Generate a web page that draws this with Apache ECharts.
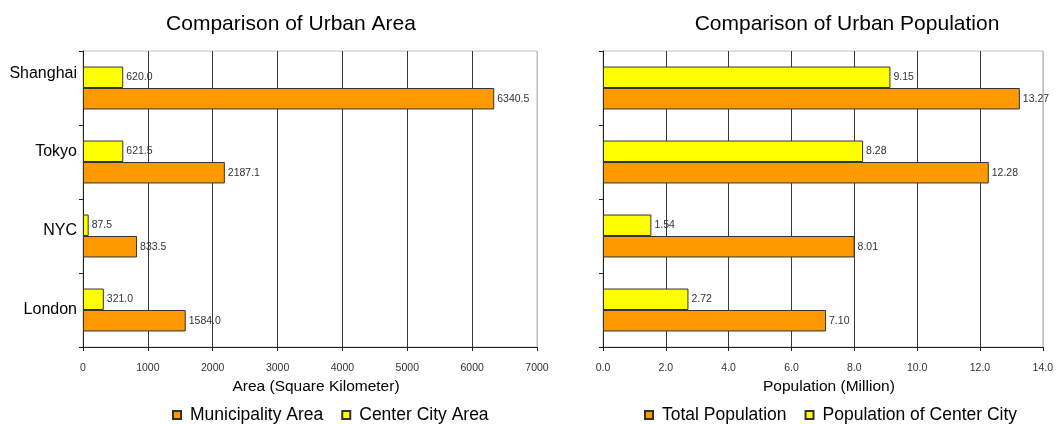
<!DOCTYPE html>
<html>
<head>
<meta charset="utf-8">
<title>Urban Area and Population</title>
<script src="https://cdn.jsdelivr.net/npm/echarts@6/dist/echarts.min.js"></script>
<style>
  html, body { margin: 0; padding: 0; background: #fff; }
  #chart { width: 1056px; height: 424px; }
</style>
</head>
<body>
<div id="chart"></div>
<script>
// Cities, top to bottom
const categories = ['Shanghai', 'Tokyo', 'NYC', 'London'];

// Area, square kilometres
const centerCityArea = [620.0, 621.5, 87.5, 321.0];
const municipalityArea = [6340.5, 2187.1, 833.5, 1584.0];

// Population, millions
const centerCityPopulation = [9.15, 8.28, 1.54, 2.72];
const totalPopulation = [13.27, 12.28, 8.01, 7.10];

// Axis ticks
const areaTicks = [0, 1000, 2000, 3000, 4000, 5000, 6000, 7000];
const populationTicks = [0, 2, 4, 6, 8, 10, 12, 14];

// Vertical nudge of each city label (px, upwards)
const labelLift = [14, 10, 5, 0];

const ORANGE = '#FF9900';
const YELLOW = '#FFFF00';
const EDGE = '#333333';
const FONT = '"Liberation Sans", Arial, sans-serif';

const chart = echarts.init(document.getElementById('chart'), null, { renderer: 'canvas' });

// Inner grid lines are dark; the last one doubles as the light plot border
function splitColors(n) {
  const c = [];
  for (let i = 0; i < n; i++) c.push(i === n - 1 ? '#c0c0c0' : '#3a3a3a');
  return c;
}

function valueAxis(gridIndex, ticks, name, digits) {
  return {
    type: 'value',
    gridIndex: gridIndex,
    min: ticks[0],
    max: ticks[ticks.length - 1],
    interval: ticks[1] - ticks[0],
    name: name,
    nameLocation: 'middle',
    nameGap: 31,
    nameTextStyle: { fontFamily: FONT, fontSize: 15.5, color: '#000', padding: [0, 0, 0, 12] },
    axisLine: { show: true, lineStyle: { color: '#222', width: 1 } },
    axisTick: { show: true, length: 4, lineStyle: { color: '#222' } },
    axisLabel: {
      margin: 16,
      fontFamily: FONT,
      fontSize: 10.5,
      color: '#333',
      formatter: v => v.toFixed(digits)
    },
    splitLine: { show: true, lineStyle: { color: splitColors(ticks.length), width: 1 } }
  };
}

const rich = {};
labelLift.forEach((d, i) => {
  rich['c' + i] = { fontFamily: FONT, fontSize: 16, color: '#000', padding: [0, 0, 2 * d, 0] };
});

function categoryAxis(gridIndex, showLabels) {
  return {
    type: 'category',
    gridIndex: gridIndex,
    data: categories,
    inverse: true,
    axisLine: { show: true, lineStyle: { color: '#222', width: 1 } },
    axisTick: { show: true, length: 4, lineStyle: { color: '#222' } },
    axisLabel: {
      show: showLabels,
      margin: 6,
      formatter: (v, i) => '{c' + i + '|' + v + '}',
      rich: rich
    },
    splitLine: { show: false }
  };
}

function barSeries(name, data, color, axisIndex, digits) {
  return {
    type: 'bar',
    name: name,
    data: data,
    xAxisIndex: axisIndex,
    yAxisIndex: axisIndex,
    barGap: '0%',
    barCategoryGap: '42%',
    itemStyle: { color: color, borderColor: EDGE, borderWidth: 1 },
    label: {
      show: true,
      position: 'right',
      distance: 3,
      fontFamily: FONT,
      fontSize: 10.5,
      color: '#333',
      formatter: p => p.value.toFixed(digits)
    },
    emphasis: { disabled: true },
    animation: false
  };
}

const legendBase = {
  orient: 'horizontal',
  top: 401,
  icon: 'rect',
  itemWidth: 8,
  itemHeight: 8,
  itemGap: 18,
  selectedMode: false,
  textStyle: { fontFamily: FONT, fontSize: 17.5, color: '#000', padding: [0, 0, 0, 4] }
};

const titleStyle = { fontFamily: FONT, fontSize: 21, fontWeight: 'normal', color: '#000' };

const option = {
  backgroundColor: '#ffffff',
  animation: false,
  title: [
    { text: 'Comparison of Urban Area', left: 286, top: 9, textAlign: 'center', textStyle: titleStyle },
    { text: 'Comparison of Urban Population', left: 842, top: 9, textAlign: 'center', textStyle: titleStyle }
  ],
  legend: [
    Object.assign({}, legendBase, { left: 167, data: ['Municipality Area', 'Center City Area'] }),
    Object.assign({}, legendBase, { left: 639, data: ['Total Population', 'Population of Center City'] })
  ],
  grid: [
    { left: 83, top: 51, width: 454, height: 296, show: true, borderColor: '#c0c0c0', borderWidth: 1, backgroundColor: '#fff', containLabel: false },
    { left: 603, top: 51, width: 442, height: 296, show: true, borderColor: '#c0c0c0', borderWidth: 1, backgroundColor: '#fff', containLabel: false }
  ],
  xAxis: [
    valueAxis(0, areaTicks, 'Area (Square Kilometer)', 0),
    valueAxis(1, populationTicks, 'Population (Million)', 1)
  ],
  yAxis: [
    categoryAxis(0, true),
    categoryAxis(1, false)
  ],
  series: [
    barSeries('Center City Area', centerCityArea, YELLOW, 0, 1),
    barSeries('Municipality Area', municipalityArea, ORANGE, 0, 1),
    barSeries('Population of Center City', centerCityPopulation, YELLOW, 1, 2),
    barSeries('Total Population', totalPopulation, ORANGE, 1, 2)
  ]
};

chart.setOption(option);
</script>
</body>
</html>
